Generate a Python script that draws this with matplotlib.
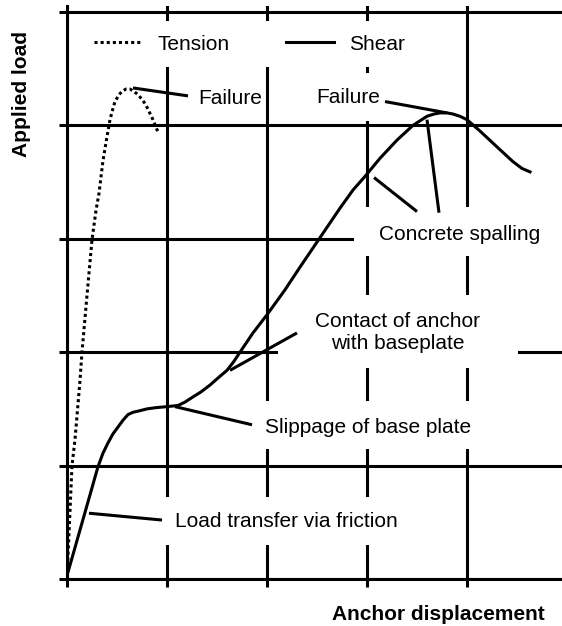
import matplotlib
matplotlib.use("Agg")
import matplotlib.pyplot as plt
from matplotlib.patches import Rectangle

plt.rcParams['font.family'] = ['Liberation Sans', 'DejaVu Sans']

# Tension curve (dotted)
tension_x = [0.0, 0.05, 0.08, 0.13, 0.15, 0.20, 0.25, 0.29, 0.32, 0.36, 0.40, 0.43,
             0.46, 0.48, 0.52, 0.55, 0.59, 0.63, 0.67, 0.71, 0.76, 0.80, 0.86, 0.91]
tension_y = [0.0, 1.00, 1.23, 1.75, 2.00, 2.50, 2.99, 3.25, 3.40, 3.69, 3.90, 4.05,
             4.15, 4.21, 4.27, 4.30, 4.32, 4.32, 4.30, 4.27, 4.22, 4.16, 4.05, 3.94]

# Shear curve (solid)
shear_x = [0.01, 0.31, 0.36, 0.41, 0.46, 0.51, 0.56, 0.61, 0.66, 0.71, 0.80, 0.88,
           1.00, 1.11, 1.18, 1.25, 1.34, 1.43, 1.52, 1.60, 1.67, 1.73, 1.86, 2.00,
           2.18, 2.33, 2.53, 2.73, 2.86, 2.98, 3.13, 3.30, 3.46, 3.53, 3.60, 3.67,
           3.73, 3.80, 3.86, 3.93, 4.00, 4.13, 4.30, 4.46, 4.55, 4.63]
shear_y = [0.06, 0.99, 1.11, 1.20, 1.28, 1.34, 1.40, 1.45, 1.47, 1.48, 1.50, 1.51,
           1.52, 1.53, 1.56, 1.60, 1.65, 1.71, 1.78, 1.84, 1.92, 2.00, 2.17, 2.33,
           2.55, 2.75, 3.01, 3.27, 3.43, 3.55, 3.71, 3.87, 4.00, 4.04, 4.08, 4.10,
           4.11, 4.11, 4.10, 4.08, 4.05, 3.95, 3.81, 3.68, 3.62, 3.59]

# Annotations: label, text anchor, alignment, leader lines
labels = ["Failure", "Failure", "Concrete spalling", "Contact of anchor\nwith baseplate",
          "Slippage of base plate", "Load transfer via friction"]
label_pos = [(1.31, 4.24), (2.49, 4.25), (3.12, 3.04), (3.31, 2.17), (1.98, 1.34), (1.08, 0.51)]
label_ha = ["left", "left", "left", "center", "left", "left"]
leaders = [
    [(0.66, 4.33), (1.21, 4.26)],
    [(3.18, 4.21), (3.80, 4.11)],
    [(3.60, 4.05), (3.72, 3.23)],
    [(3.07, 3.54), (3.50, 3.24)],
    [(1.63, 1.84), (2.30, 2.17)],
    [(1.08, 1.52), (1.85, 1.36)],
    [(0.22, 0.58), (0.95, 0.52)],
]

# white areas that break the grid around the labels (x0, x1, y0, y1)
gaps = [
    (2.33, 3.28, 4.04, 4.46),
    (2.87, 5.30, 2.85, 3.28),
    (2.11, 4.51, 1.86, 2.50),
    (1.48, 4.33, 1.15, 1.57),
    (0.88, 3.53, 0.30, 0.72),
]

LW = 2.2
FS = 15

fig = plt.figure(figsize=(5.62, 6.26), dpi=100)
ax = fig.add_axes([0.1192, 0.07508, 1 - 0.1192, 0.98994 - 0.07508])
ax.set_xlim(0, 4.95)
ax.set_ylim(0, 5.05)

ax.set_xticks([0, 1, 2, 3, 4])
ax.set_yticks([0, 1, 2, 3, 4, 5])
ax.set_xticklabels([])
ax.set_yticklabels([])
ax.tick_params(direction='out', length=6, width=LW, color='black')
ax.set_axisbelow(True)
ax.grid(True, color='black', linewidth=LW)
for side in ['top', 'right']:
    ax.spines[side].set_visible(False)
for side in ['left', 'bottom']:
    ax.spines[side].set_linewidth(LW)

for x0, x1, y0, y1 in gaps:
    ax.add_patch(Rectangle((x0, y0), x1 - x0, y1 - y0, facecolor='white',
                           edgecolor='none', zorder=1))

ax.plot(tension_x, tension_y, color='black', lw=LW, linestyle=(0, (1, 1)),
        label='Tension', zorder=3)
ax.plot(shear_x, shear_y, color='black', lw=LW, label='Shear', zorder=3,
        solid_joinstyle='round')

for seg in leaders:
    ax.plot([seg[0][0], seg[1][0]], [seg[0][1], seg[1][1]], color='black',
            lw=LW, solid_capstyle='butt', zorder=3)

for text, (tx, ty), ha in zip(labels, label_pos, label_ha):
    ax.text(tx, ty, text, ha=ha, va='center', multialignment='center',
            fontsize=FS, zorder=4, linespacing=1.2)

leg = ax.legend(loc='upper left', bbox_to_anchor=(0.028, 0.974), ncol=2,
                fontsize=FS, frameon=True, fancybox=False, borderpad=0.65,
                borderaxespad=0, handlelength=2.3, handletextpad=0.72,
                columnspacing=2.7)
leg.get_frame().set_facecolor('white')
leg.get_frame().set_edgecolor('none')
leg.get_frame().set_alpha(1)

fig.text(0.039, 0.850, "Applied load", rotation=90, ha='center', va='center',
         fontsize=FS, fontweight='bold')
fig.text(0.970, 0.0176, "Anchor displacement", ha='right', va='center',
         fontsize=FS, fontweight='bold')

fig.savefig("out.png", dpi=100)
